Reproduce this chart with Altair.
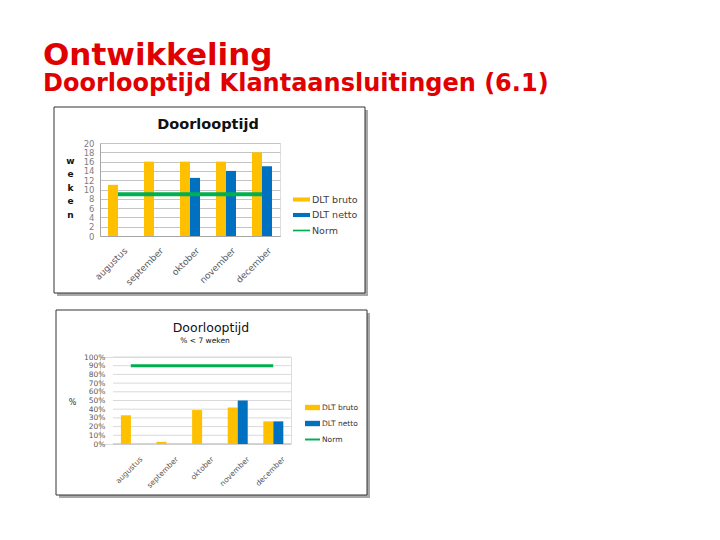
import pandas as pd
import altair as alt

maanden = ["augustus", "september", "oktober", "november", "december"]
series = ["DLT bruto", "DLT netto", "Norm"]
kleuren = ["#FFC000", "#0070C0", "#00B050"]

# doorlooptijd in weken
weken_bruto = [11, 16, 16, 16, 18]
weken_netto = [None, None, 12.5, 14, 15]
weken_norm = [9, 9, 9, 9, 9]
weken_ticks = [0, 2, 4, 6, 8, 10, 12, 14, 16, 18, 20]

# % aansluitingen binnen 7 weken
pct_bruto = [33, 2.5, 39, 42, 26]
pct_netto = [None, None, None, 50, 26]
pct_norm = [90, 90, 90, 90, 90]
pct_ticks = [0, 10, 20, 30, 40, 50, 60, 70, 80, 90, 100]

ROOD = "#E00000"
een = pd.DataFrame({"k": [0]})


def balk_tabel(bruto, netto):
    rijen = []
    for m, b, n in zip(maanden, bruto, netto):
        rijen.append({"maand": m, "serie": "DLT bruto", "waarde": b})
        if n is not None:
            rijen.append({"maand": m, "serie": "DLT netto", "waarde": n})
    return pd.DataFrame(rijen)


def norm_tabel(norm):
    return pd.DataFrame({"maand": maanden, "serie": "Norm", "waarde": norm})


def kader(x1, x2, y1, y2):
    # rand + schaduw rechts/onder (geen vulling, anders verdwijnt het grid)
    return [
        alt.Chart(een).mark_rect(color="#a8a8a8").encode(
            x=alt.value(x2), x2=alt.value(x2 + 3), y=alt.value(y1 + 3), y2=alt.value(y2 + 3)),
        alt.Chart(een).mark_rect(color="#a8a8a8").encode(
            x=alt.value(x1 + 3), x2=alt.value(x2 + 3), y=alt.value(y2), y2=alt.value(y2 + 3)),
        alt.Chart(een).mark_rect(fillOpacity=0, stroke="#333333", strokeWidth=1).encode(
            x=alt.value(x1), x2=alt.value(x2), y=alt.value(y1), y2=alt.value(y2)),
    ]


def tekst(t, x, y, size, weight="normal", font="DejaVu Sans"):
    return alt.Chart(een).mark_text(
        text=t, font=font, fontSize=size, fontWeight=weight, color="#111111",
        align="center", baseline="alphabetic",
    ).encode(x=alt.value(x), y=alt.value(y))


def paneel(bruto, netto, norm, ticks, w, h, frame, y_axis, x_axis, lijn_breedte,
           titels, legenda, vorm_hoogte, links=0, grid_kleur=None):
    if links:
        x_scale = alt.Scale(paddingInner=0.444, paddingOuter=0.222, range=[links, w])
    else:
        x_scale = alt.Scale(paddingInner=0.444, paddingOuter=0.222)
    y_scale = alt.Scale(domain=[ticks[0], ticks[-1]], nice=False)

    lagen = kader(*frame)
    if links:
        # rasterlijnen alleen over het plotgebied (dat begint 'links' px naar rechts)
        lagen.append(alt.Chart(pd.DataFrame({"waarde": ticks})).mark_rule(
            color=grid_kleur, strokeWidth=1).encode(
            y=alt.Y("waarde:Q", scale=y_scale, axis=y_axis),
            x=alt.value(links), x2=alt.value(w)))
        lagen.append(alt.Chart(pd.DataFrame({"waarde": ticks[:1]})).mark_rule(
            color="#bfbfbf", strokeWidth=1).encode(
            y=alt.Y("waarde:Q"), x=alt.value(links), x2=alt.value(w)))

    balken = alt.Chart(balk_tabel(bruto, netto)).mark_bar().encode(
        x=alt.X("maand:N", sort=maanden, scale=x_scale, axis=x_axis),
        xOffset=alt.XOffset("serie:N", scale=alt.Scale(
            domain=series[:2], paddingInner=0, paddingOuter=0)),
        y=alt.Y("waarde:Q", scale=y_scale, axis=y_axis),
        fill=alt.Fill("serie:N", scale=alt.Scale(domain=series[:2], range=kleuren[:2]), legend=None),
    )
    lijn = alt.Chart(norm_tabel(norm)).mark_line(strokeWidth=lijn_breedte, color=kleuren[2]).encode(
        x=alt.X("maand:N", sort=maanden),
        y=alt.Y("waarde:Q"),
    )
    hb, hn = vorm_hoogte
    paden = [f"M-1,-{hb}H1V{hb}H-1Z", f"M-1,-{hb}H1V{hb}H-1Z", f"M-1,-{hn}H1V{hn}H-1Z"]
    leg = alt.Chart(pd.DataFrame({"serie": series})).mark_point(filled=True, size=0, opacity=1).encode(
        color=alt.Color("serie:N", scale=alt.Scale(domain=series, range=kleuren), legend=legenda),
        shape=alt.Shape("serie:N", scale=alt.Scale(domain=series, range=paden), legend=legenda),
    )
    lagen += [balken, lijn, leg]
    lagen += [tekst(*t) for t in titels]
    return alt.layer(*lagen).properties(width=w, height=h)


# bovenste grafiek
boven = paneel(
    weken_bruto, weken_netto, weken_norm, weken_ticks, 180, 93,
    frame=(-46, 265, -36, 150),
    y_axis=alt.Axis(
        values=weken_ticks, tickCount=len(weken_ticks), labelOverlap=False,
        title=["w", "e", "k", "e", "n"], titleAngle=0,
        titleX=-30, titleY=17, titleAlign="center", titleBaseline="middle",
        titleFont="DejaVu Sans", titleFontSize=9, titleFontWeight="bold",
        titleLineHeight=13.5, titleColor="#111111",
        labelFont="DejaVu Sans", labelFontSize=8.5, labelColor="#808080",
        labelPadding=6, ticks=False, domainColor="#a6a6a6",
        gridColor="#c4c4c4"),
    x_axis=alt.Axis(
        title=None, labelAngle=-45, labelOverlap=False, labelFont="DejaVu Sans", labelFontSize=9,
        labelColor="#5a5a5a", labelPadding=10, labelOffset=5, ticks=False, domainColor="#a6a6a6"),
    lijn_breedte=4,
    titels=[("Doorlooptijd", 108, -14, 14.5, "bold")],
    legenda=alt.Legend(
        title=None, orient="none", legendX=193, legendY=48, padding=0,
        symbolSize=289, symbolStrokeWidth=0, symbolOpacity=1, labelFont="DejaVu Sans",
        labelFontSize=9.5, labelColor="#404040", labelOffset=2, rowPadding=2.5),
    vorm_hoogte=(0.24, 0.1),
)

# onderste grafiek (plotgebied 13 px verder naar rechts dan het bovenste)
onder = paneel(
    pct_bruto, pct_netto, pct_norm, pct_ticks, 191, 87,
    frame=(-44, 267, -47, 138),
    y_axis=alt.Axis(
        values=pct_ticks, tickCount=len(pct_ticks), labelOverlap=False,
        labelExpr="datum.value + '%'", title="%", titleAngle=0,
        titleX=-41, titleY=45, titleAlign="center", titleBaseline="middle",
        titleFont="DejaVu Sans", titleFontSize=8, titleFontWeight="normal",
        titleColor="#333333", offset=-13,
        labelFont="DejaVu Sans", labelFontSize=7.5, labelColor="#595959",
        labelPadding=8, ticks=False, domain=False, grid=False),
    x_axis=alt.Axis(
        title=None, labelAngle=-45, labelOverlap=False, labelFont="DejaVu Sans", labelFontSize=7.5,
        labelColor="#595959", labelPadding=11, labelOffset=8, ticks=False, domain=False),
    lijn_breedte=3,
    titels=[("Doorlooptijd", 111, -25, 12.5), ("% < 7 weken", 105, -14, 7.5)],
    legenda=alt.Legend(
        title=None, orient="none", legendX=205, legendY=43, padding=0,
        symbolSize=225, symbolStrokeWidth=0, symbolOpacity=1, labelFont="DejaVu Sans",
        labelFontSize=7.5, labelColor="#333333", labelOffset=2, rowPadding=5),
    vorm_hoogte=(0.36, 0.13),
    links=13,
    grid_kleur="#d9d9d9",
)

chart = alt.concat(boven, onder, columns=1, spacing=12).resolve_scale(
    color="independent", shape="independent", fill="independent"
).resolve_legend(
    color="independent", shape="independent"
).properties(
    title=alt.TitleParams(
        text="Ontwikkeling", subtitle="Doorlooptijd Klantaansluitingen (6.1)",
        anchor="start", dx=-10, offset=9,
        font="DejaVu Sans", fontSize=31, fontWeight="bold", color=ROOD,
        subtitleFont="DejaVu Sans", subtitleFontSize=24, subtitleFontWeight="bold",
        subtitleColor=ROOD, subtitlePadding=0),
    padding={"left": 35, "top": 32, "right": 10, "bottom": 10},
).configure_view(stroke=None).configure(background="white")

chart.save("out.html", embed_options={"renderer": "svg", "actions": False})
